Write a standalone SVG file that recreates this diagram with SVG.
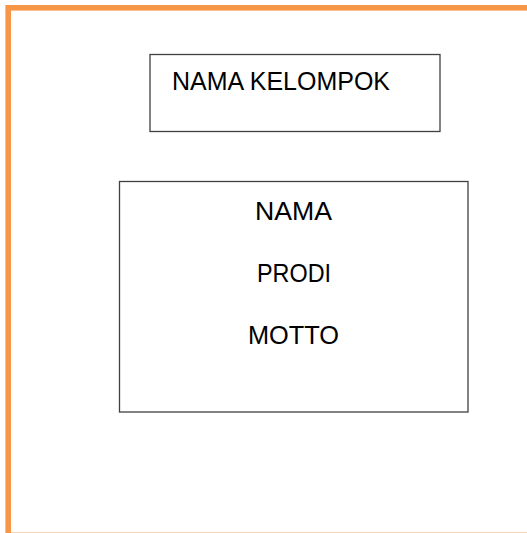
<svg xmlns="http://www.w3.org/2000/svg" width="527" height="533" viewBox="0 0 527 533">
<style>
.box{fill:#ffffff;stroke:#404040;stroke-width:1.3}
.t{font-family:"Liberation Sans",Arial,sans-serif;font-size:25px;fill:#000000}
.frame{fill:none;stroke:#F79646;stroke-width:5.6}
</style>
<rect x="0" y="0" width="527" height="533" fill="#ffffff"/>
<rect class="frame" x="8.2" y="7.8" width="530" height="527.6"/>
<g id="node-nama-kelompok">
<rect class="box" x="150" y="54.5" width="290" height="77"/>
<text class="t" x="172" y="90" textLength="218" lengthAdjust="spacingAndGlyphs">NAMA KELOMPOK</text>
</g>
<g id="node-info">
<rect class="box" x="119.5" y="181.5" width="348.5" height="230.5"/>
<text class="t" x="255" y="220" textLength="77" lengthAdjust="spacingAndGlyphs">NAMA</text>
<text class="t" x="257" y="282" textLength="74" lengthAdjust="spacingAndGlyphs">PRODI</text>
<text class="t" x="248" y="344" textLength="91" lengthAdjust="spacingAndGlyphs">MOTTO</text>
</g>
<g id="connectors"></g>
</svg>
